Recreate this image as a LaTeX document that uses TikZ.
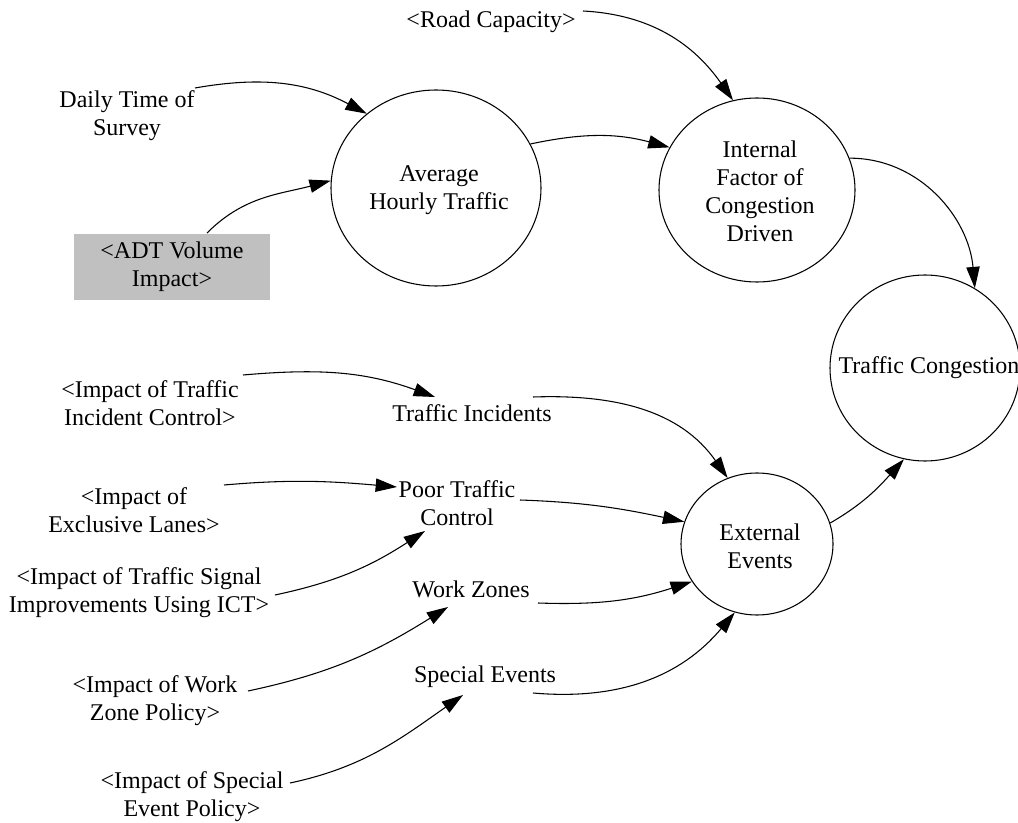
\documentclass[tikz,border=0pt]{standalone}
\usepackage{fontspec}
\setmainfont{Liberation Serif}
\usetikzlibrary{shapes.geometric,arrows.meta}
\definecolor{boxgray}{RGB}{192,192,192}
\tikzset{
  lbl/.style={align=center,inner sep=0pt,font=\fontsize{18}{21}\selectfont},
  var/.style={ellipse,draw,line width=0.8pt,inner sep=0pt},
  shadow/.style={fill=boxgray,inner sep=0pt,align=center,font=\fontsize{18}{21}\selectfont,minimum width=147pt,minimum height=49.5pt},
  link/.style={line width=0.8pt,-{Triangle[length=16pt,width=10pt]}},
}
\begin{document}
\begin{tikzpicture}[x=0.75pt,y=0.75pt]
\useasboundingbox (0,0) rectangle (1018,-823);
% circles
\node[var,minimum width=157.5pt,minimum height=147pt] (avg) at (436,-188) {};
\node[var,minimum width=147pt,minimum height=138pt] (ifc) at (757,-190) {};
\node[var,minimum width=142.5pt,minimum height=139.5pt] (tc) at (925,-368) {};
\node[var,minimum width=114pt,minimum height=106.5pt] (ext) at (757,-544) {};
% circle texts
\node[lbl] (avgT) at (439,-190) {Average\\Hourly Traffic};
\node[lbl] (ifcT) at (760,-191) {Internal\\Factor of\\Congestion\\Driven};
\node[lbl] (tcT) at (929,-368) {Traffic Congestion};
\node[lbl] (extT) at (760,-546) {External\\Events};
% labels
\node[lbl] (road) at (491,-22) {<Road Capacity>};
\node[lbl] (daily) at (127,-116) {Daily Time of\\Survey};
\node[shadow] (adt) at (172,-267) {<ADT Volume\\Impact>};
\node[lbl] (iti) at (150,-403) {<Impact of Traffic\\Incident Control>};
\node[lbl] (ti) at (472,-413) {Traffic Incidents};
\node[lbl] (iel) at (134,-510) {<Impact of\\Exclusive Lanes>};
\node[lbl] (ptc) at (457,-503) {Poor Traffic\\Control};
\node[lbl] (its) at (139,-593) {<Impact of Traffic Signal\\Improvements Using ICT>};
\node[lbl] (wz) at (471,-589) {Work Zones};
\node[lbl] (iwz) at (155,-701) {<Impact of Work\\Zone Policy>};
\node[lbl] (se) at (485,-677) {Special Events};
\node[lbl] (ise) at (192,-797) {<Impact of Special\\Event Policy>};
% connector free ends
\coordinate (dailyO) at (195,-88);
\coordinate (adtO) at (207,-233);
\coordinate (roadO) at (583,-11);
\coordinate (itiO) at (243,-375);
\coordinate (tiI) at (435,-397);
\coordinate (tiO) at (533,-397);
\coordinate (ielO) at (224,-485);
\coordinate (ptcI) at (397,-487);
\coordinate (ptcO) at (520,-500);
\coordinate (ptcI2) at (425,-531);
\coordinate (itsO) at (275,-595);
\coordinate (wzO) at (538,-603);
\coordinate (wzI) at (448,-607);
\coordinate (iwzO) at (248,-691);
\coordinate (seO) at (533,-693);
\coordinate (seI) at (463,-695);
\coordinate (iseO) at (290,-783);
% connectors
\draw[link] (dailyO) to[out=10,in=152] (avg.133);
\draw[link] (adtO) to[out=45,in=195] (avg.176);
\draw[link] (roadO) to[out=-3,in=125] (ifc.105);
\draw[link] (avg.25) to[out=12,in=165] (ifc.154);
\draw[link] (ifc.19) to[out=0,in=95] (tc.58);
\draw[link] (ext.16) to[out=30,in=228] (tc.257);
\draw[link] (itiO) to[out=5,in=160] (tiI);
\draw[link] (tiO) to[out=2,in=125] (ext.114);
\draw[link] (ielO) to[out=5,in=175] (ptcI);
\draw[link] (ptcO) to[out=-2,in=168] (ext.163);
\draw[link] (itsO) to[out=12,in=213] (ptcI2);
\draw[link] (wzO) to[out=-2,in=198] (ext.210);
\draw[link] (iwzO) to[out=12,in=212] (wzI);
\draw[link] (seO) to[out=-5,in=230] (ext.252);
\draw[link] (iseO) to[out=12,in=215] (seI);
\end{tikzpicture}
\end{document}
